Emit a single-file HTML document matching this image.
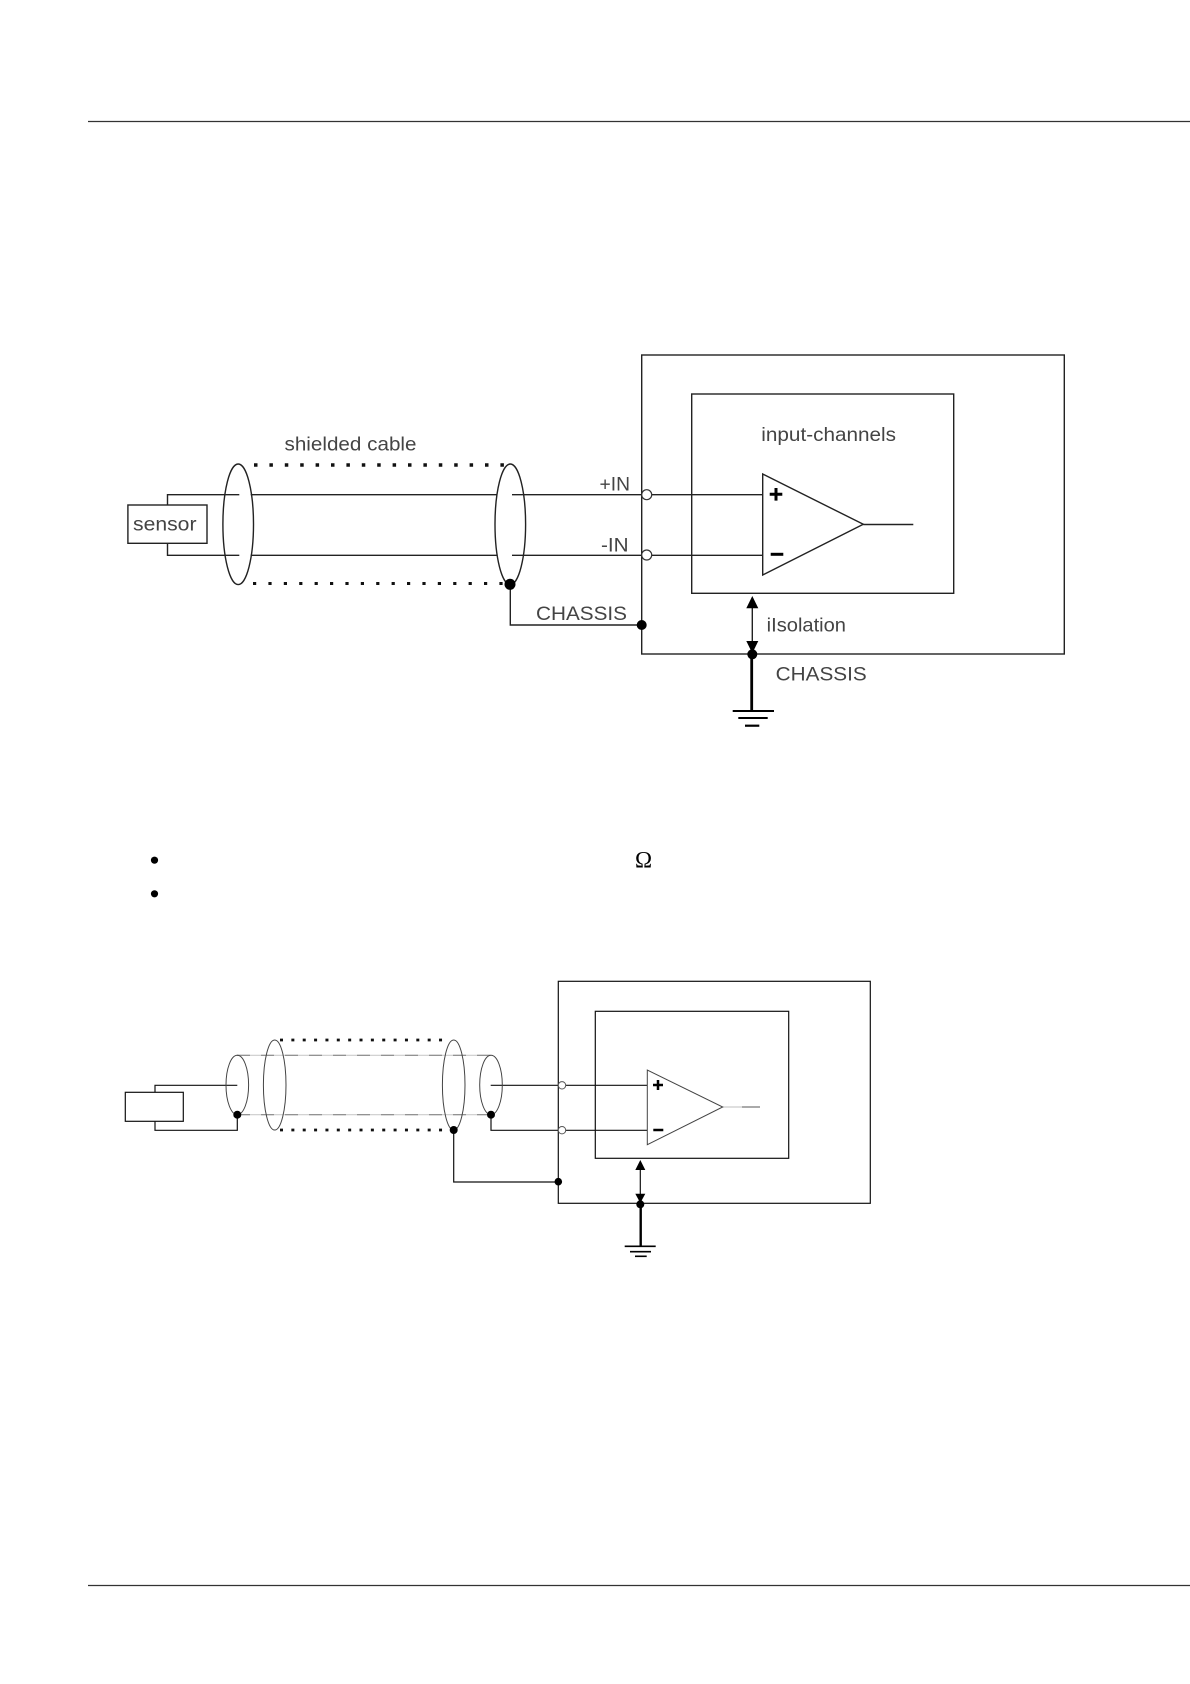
<!DOCTYPE html>
<html>
<head>
<meta charset="utf-8">
<style>
html,body{margin:0;padding:0;background:#fff;width:1190px;height:1684px;overflow:hidden}
svg{display:block}
text{font-family:"Liberation Sans",sans-serif;font-size:19.5px;fill:#444}
</style>
</head>
<body>
<svg xmlns="http://www.w3.org/2000/svg" width="1190" height="1684" viewBox="0 0 1190 1684">
<rect width="1190" height="1684" fill="#fff"/>
<!-- page rules -->
<g stroke="#333" stroke-width="1.2" fill="none">
<line x1="88" y1="121.5" x2="1190" y2="121.5"/>
<line x1="88" y1="1585.5" x2="1190" y2="1585.5"/>
</g>

<!-- ============ Diagram 1 ============ -->
<g fill="none" stroke="#222" stroke-width="1.4">
<rect x="641.7" y="355" width="422.6" height="299"/>
<rect x="691.7" y="394" width="262" height="199.3"/>
<rect x="127.9" y="505" width="79.1" height="38.3"/>
<path d="M167.5 505V494.7H239.3M250.7 494.7H497M512 494.7H641.7M652 494.7H762.7"/>
<path d="M167.5 543.3V555.3H239.3M250.7 555.3H497M512 555.3H641.7M652 555.3H762.7"/>
<ellipse cx="238.2" cy="524.3" rx="15.3" ry="60.3"/>
<ellipse cx="510.3" cy="524.3" rx="15.3" ry="60.3"/>
<path d="M510.3 584V625H641.7"/>
<path d="M762.7 474V575L863.3 524.3Z"/>
<line x1="863.3" y1="524.5" x2="913.3" y2="524.5"/>
<line x1="752.3" y1="606" x2="752.3" y2="643"/>
</g>
<g fill="none" stroke="#111">
<line x1="254" y1="465" x2="505" y2="465" stroke-width="3.5" stroke-dasharray="3.5 11.9"/>
<line x1="253" y1="583.5" x2="505" y2="583.5" stroke-width="3" stroke-dasharray="3.2 12.2"/>
</g>
<g fill="#fff" stroke="#333" stroke-width="1.2">
<circle cx="646.7" cy="494.7" r="5"/>
<circle cx="646.7" cy="555" r="5"/>
</g>
<g fill="#000">
<circle cx="510" cy="584.3" r="5.5"/>
<circle cx="641.7" cy="625" r="5"/>
<circle cx="752.3" cy="654.3" r="5"/>
<path d="M752.3 596L758.3 608.3H746.3Z"/>
<path d="M752.3 653.3L746.3 641H758.3Z"/>
</g>
<g stroke="#000" fill="none">
<path d="M769.7 494.3H782.3M776 488V500.6" stroke-width="3"/>
<line x1="770.7" y1="554.3" x2="783.3" y2="554.3" stroke-width="3"/>
<line x1="751.7" y1="654" x2="751.7" y2="711" stroke-width="2.8"/>
<line x1="732.7" y1="711" x2="774" y2="711" stroke-width="2"/>
<line x1="738.3" y1="718" x2="767.7" y2="718" stroke-width="2"/>
<line x1="745" y1="725.7" x2="759.3" y2="725.7" stroke-width="2.2"/>
</g>
<text x="284.5" y="450.7" textLength="132" lengthAdjust="spacingAndGlyphs">shielded cable</text>
<text x="133" y="530.7" textLength="63.5" lengthAdjust="spacingAndGlyphs">sensor</text>
<text x="599.5" y="490.7" textLength="30.5" lengthAdjust="spacingAndGlyphs">+IN</text>
<text x="601" y="551.7" textLength="27.6" lengthAdjust="spacingAndGlyphs">-IN</text>
<text x="536" y="620" textLength="91" lengthAdjust="spacingAndGlyphs">CHASSIS</text>
<text x="761.3" y="441" textLength="134.7" lengthAdjust="spacingAndGlyphs">input-channels</text>
<text x="766.7" y="631.7" textLength="79.3" lengthAdjust="spacingAndGlyphs">iIsolation</text>
<text x="775.7" y="680.7" textLength="91" lengthAdjust="spacingAndGlyphs">CHASSIS</text>

<!-- bullets -->
<circle cx="154.5" cy="860.2" r="3.6" fill="#000"/>
<circle cx="154.5" cy="893.8" r="3.6" fill="#000"/>
<text x="635" y="867.3" style="font-family:'Liberation Serif',serif;font-size:23px;fill:#000">Ω</text>

<!-- ============ Diagram 2 ============ -->
<g fill="none" stroke="#ccc" stroke-width="1.2">
<line x1="237" y1="1055.3" x2="491" y2="1055.3"/>
<line x1="237" y1="1114.7" x2="491" y2="1114.7"/>
<line x1="722.7" y1="1107" x2="742" y2="1107"/>
</g>
<g fill="none" stroke="#888" stroke-width="1.2" stroke-dasharray="13 11">
<line x1="237" y1="1055.3" x2="491" y2="1055.3"/>
<line x1="237" y1="1114.7" x2="491" y2="1114.7"/>
</g>
<line x1="742" y1="1107" x2="760" y2="1107" stroke="#777" stroke-width="1.2"/>
<g fill="none" stroke="#111" stroke-width="1.2">
<rect x="558.3" y="981.3" width="312" height="222"/>
<rect x="595.3" y="1011.3" width="193.4" height="147"/>
<rect x="125.3" y="1092.3" width="58" height="29"/>
<path d="M155 1092.3V1085.3H237.3M490.7 1085.3H558.3M565.7 1085.3H647.3"/>
<path d="M155 1121.3V1130.3H237.3V1114.7M491 1114.7V1130.3H558.3M565.7 1130.3H647.3"/>
<path d="M453.7 1130V1182H558.3"/>
<line x1="640.3" y1="1168" x2="640.3" y2="1195"/>
</g>
<g fill="none" stroke="#444" stroke-width="1">
<ellipse cx="237.3" cy="1085" rx="11.3" ry="29.7"/>
<ellipse cx="274.7" cy="1085" rx="11.3" ry="45"/>
<ellipse cx="453.7" cy="1085" rx="11.3" ry="45"/>
<ellipse cx="491" cy="1085" rx="11.3" ry="29.7"/>
<path d="M647.3 1070V1144.7L722.7 1107Z"/>
</g>
<g fill="none" stroke="#111" stroke-width="2.8" stroke-dasharray="3 8.36">
<line x1="280" y1="1040" x2="450" y2="1040"/>
<line x1="280" y1="1130" x2="450" y2="1130"/>
</g>
<g fill="#fff" stroke="#555" stroke-width="1">
<circle cx="562" cy="1085.3" r="3.7"/>
<circle cx="562" cy="1130.2" r="3.7"/>
</g>
<g fill="#000">
<circle cx="237.3" cy="1114.7" r="4"/>
<circle cx="491" cy="1114.7" r="4"/>
<circle cx="453.7" cy="1130" r="4"/>
<circle cx="558.3" cy="1181.7" r="3.8"/>
<circle cx="640.3" cy="1204.3" r="4"/>
<path d="M640.3 1160L645.3 1170H635.3Z"/>
<path d="M640.3 1203L635.3 1193.7H645.3Z"/>
</g>
<g stroke="#000" fill="none">
<path d="M653 1085H663M658 1080V1090" stroke-width="2.5"/>
<line x1="653.3" y1="1130" x2="663.3" y2="1130" stroke-width="2.5"/>
<line x1="640.7" y1="1204" x2="640.7" y2="1246" stroke-width="2.4"/>
<line x1="624.7" y1="1246.3" x2="655.7" y2="1246.3" stroke-width="1.6"/>
<line x1="630" y1="1251.7" x2="651" y2="1251.7" stroke-width="1.6"/>
<line x1="635" y1="1256.3" x2="646.7" y2="1256.3" stroke-width="1.6"/>
</g>
</svg>
</body>
</html>
